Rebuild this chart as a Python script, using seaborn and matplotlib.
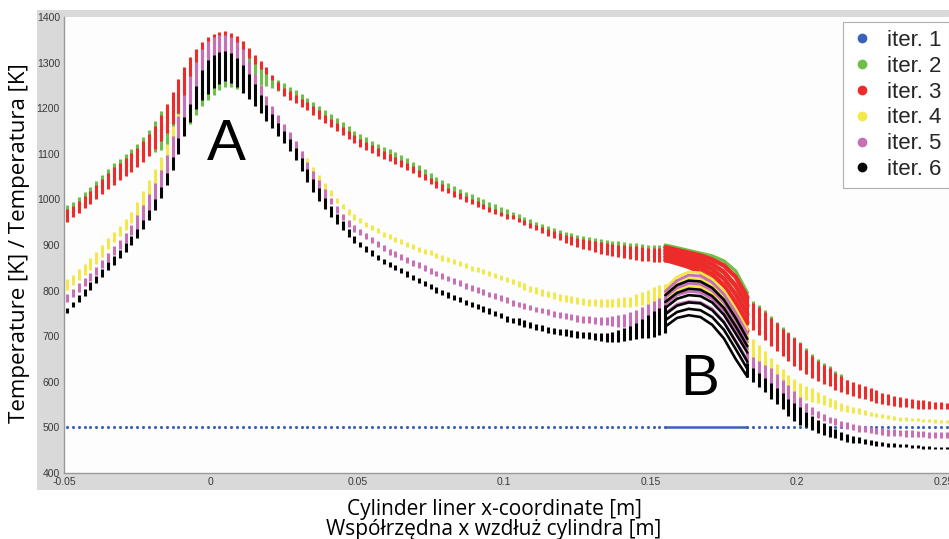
import numpy as np
import pandas as pd
import matplotlib
matplotlib.use("Agg")
import matplotlib.pyplot as plt
from matplotlib.lines import Line2D
import seaborn as sns

# ---------------- data ----------------
# bar positions along the liner [m] (left of ring zone B, then right of it)
x_bars = [
    -0.049, -0.047, -0.045, -0.043, -0.041, -0.039, -0.037, -0.035, -0.033, -0.031,
    -0.029, -0.027, -0.025, -0.023, -0.021, -0.019, -0.017, -0.015, -0.013, -0.011,
    -0.009, -0.007, -0.005, -0.003, -0.001, 0.001, 0.003, 0.005, 0.007, 0.009,
    0.011, 0.013, 0.015, 0.017, 0.019, 0.021, 0.023, 0.025, 0.027, 0.029,
    0.031, 0.033, 0.035, 0.037, 0.039, 0.041, 0.043, 0.045, 0.047, 0.049,
    0.051, 0.053, 0.055, 0.057, 0.059, 0.061, 0.063, 0.065, 0.067, 0.069,
    0.071, 0.073, 0.075, 0.077, 0.079, 0.081, 0.083, 0.085, 0.087, 0.089,
    0.091, 0.093, 0.095, 0.097, 0.099, 0.101, 0.103, 0.105, 0.107, 0.109,
    0.111, 0.113, 0.115, 0.117, 0.119, 0.121, 0.123, 0.125, 0.127, 0.129,
    0.131, 0.133, 0.135, 0.137, 0.139, 0.141, 0.143, 0.145, 0.147, 0.149,
    0.151, 0.153, 0.155,
    0.183, 0.185, 0.187, 0.189, 0.191, 0.193, 0.195, 0.197, 0.199, 0.201,
    0.203, 0.205, 0.207, 0.209, 0.211, 0.213, 0.215, 0.217, 0.219, 0.221,
    0.223, 0.225, 0.227, 0.229, 0.231, 0.233, 0.235, 0.237, 0.239, 0.241,
    0.243, 0.245, 0.247, 0.249, 0.251]

iter1_T = [500] * 138

iter2_top = [
    987, 994, 1005, 1016, 1027, 1040, 1054, 1067, 1079, 1089, 1099, 1111, 1122, 1136, 1152, 1171, 1194,
    1205, 1231, 1258, 1285, 1307, 1325, 1341, 1351, 1358, 1363, 1364, 1361, 1353, 1343, 1327, 1312, 1298, 1285, 1267,
    1262,
    1255, 1247, 1239, 1231, 1223, 1214, 1205, 1196, 1187, 1178, 1169, 1160, 1151,
    1143, 1136, 1129, 1122, 1116, 1110, 1104, 1097, 1090, 1083, 1075, 1066, 1058, 1050, 1043, 1036, 1029, 1023, 1017, 1011, 1006, 1000, 994, 989, 983, 978,
    972, 967, 961, 956, 951, 946, 941, 937, 933, 929, 926, 923, 920, 917, 915, 913, 911, 909, 908, 906, 905, 904, 902, 901, 900, 900, 899,
    787, 777, 768, 757, 745, 732, 720, 710, 699, 688, 674, 661, 650, 641, 634, 623, 617,
    603, 598, 593, 589, 584, 580, 574, 571, 567, 564, 562, 560, 558, 557, 555, 554, 554, 552]
iter2_bot = [
    956, 966, 976, 986, 995, 1006, 1017, 1027, 1036, 1047, 1056, 1066, 1077, 1088, 1100,
    1105, 1108,
    1115, 1130, 1145, 1160, 1165, 1185, 1205, 1218, 1230, 1240, 1246, 1246, 1242, 1238, 1236, 1240, 1250, 1248, 1244, 1238,
    1230, 1222, 1214, 1206, 1198, 1189, 1180, 1171, 1162, 1153, 1144, 1135, 1126,
    1118, 1111, 1105, 1098, 1092, 1087, 1081, 1074, 1068, 1061, 1053, 1045, 1037, 1029, 1022, 1016, 1009, 1003, 998, 992, 987, 982, 976, 971, 966, 961,
    959, 953, 947, 941, 935, 929, 923, 918, 913, 908, 904, 899, 895, 891, 887, 884, 881, 878, 876, 874, 872, 870, 869, 868, 866, 865, 865,
    728, 717, 705, 694, 682, 670, 659, 648, 637, 629, 621, 612, 605, 599, 593, 586, 581,
    576, 572, 567, 565, 561, 557, 554, 552, 550, 548, 547, 546, 544, 543, 543, 543, 543, 543]

iter3_top = [
    978, 985, 996, 1007, 1018, 1031, 1045, 1058, 1070, 1080, 1090, 1102, 1113, 1127, 1143, 1162, 1185,
    1210, 1236, 1263, 1290, 1312, 1330, 1346, 1356, 1363, 1368, 1369, 1366, 1358, 1348, 1332, 1317, 1303, 1290, 1272, 1258,
    1245, 1237, 1229, 1221, 1213, 1204, 1195, 1186, 1177, 1168, 1159, 1150, 1141,
    1133, 1126, 1119, 1112, 1106, 1100, 1094, 1087, 1080, 1073, 1065, 1056, 1048, 1040, 1033, 1026, 1019, 1013, 1007, 1001, 996, 990, 984, 979, 973, 968,
    965, 960, 954, 949, 944, 939, 934, 930, 926, 922, 919, 916, 913, 910, 908, 906, 904, 902, 901, 899, 898, 897, 895, 894, 893, 893, 892,
    783, 773, 764, 753, 741, 728, 716, 706, 695, 684, 670, 657, 646, 637, 630, 619, 613,
    605, 600, 595, 591, 586, 582, 576, 573, 569, 566, 564, 562, 560, 559, 557, 556, 556, 554]
iter3_bot = [
    951, 961, 971, 981, 990, 1001, 1012, 1022, 1031, 1042, 1051, 1061, 1072, 1083, 1095, 1110, 1128,
    1145, 1165, 1190, 1220, 1250, 1280, 1300, 1315, 1322, 1328, 1330, 1330, 1328, 1320, 1310, 1298, 1285, 1275, 1262, 1240,
    1227, 1219, 1211, 1203, 1195, 1186, 1177, 1168, 1159, 1150, 1141, 1132, 1123,
    1115, 1108, 1102, 1095, 1089, 1084, 1078, 1071, 1065, 1058, 1050, 1042, 1034, 1026, 1019, 1013, 1006, 1000, 995, 989, 984, 979, 973, 968, 963, 958,
    956, 950, 944, 938, 932, 926, 920, 915, 910, 905, 901, 896, 892, 888, 884, 881, 878, 875, 873, 871, 869, 867, 866, 865, 863, 862, 862,
    725, 714, 702, 691, 679, 667, 656, 645, 634, 626, 618, 609, 602, 596, 590, 583, 578,
    573, 569, 564, 562, 558, 554, 551, 549, 547, 545, 544, 543, 541, 540, 540, 540, 540, 540]

iter4_top = [
    825, 834, 847, 858, 871, 885, 900, 915, 929, 942, 956, 973,
    995, 1018, 1042, 1066, 1092, 1122, 1160, 1188,
    1224, 1264, 1296, 1324, 1342, 1350, 1354, 1355, 1350, 1339,
    1324, 1298, 1270, 1244, 1220, 1199,
    1180, 1160, 1142, 1122, 1106, 1090, 1072, 1054, 1036, 1020, 1004, 990, 978, 967,
    959, 951, 944, 937, 929, 924, 918, 913, 907, 902, 896, 892, 888, 882, 877, 873, 869, 864, 860, 855, 851, 847, 842, 838, 835, 830,
    826, 821, 816, 811, 807, 803, 800, 796, 793, 790, 788, 786, 784, 782, 782, 781, 781, 782, 783, 785, 787, 792, 797, 802, 807, 812, 815,
    706, 694, 681, 667, 652, 640, 627, 615, 607, 597, 591, 586, 578, 571, 565, 560, 554,
    549, 545, 542, 538, 534, 532, 529, 527, 525, 523, 522, 521, 520, 519, 518, 518, 517, 516]
iter4_bot = [
    801, 812, 823, 834, 845, 858, 874, 891, 907, 920, 933, 948,
    960, 983, 1007, 1032, 1060, 1093, 1135, 1177,
    1220, 1260, 1292, 1320, 1338, 1346, 1350, 1351, 1346, 1335,
    1320, 1294, 1266, 1240, 1216, 1195,
    1176, 1156, 1138, 1118, 1102, 1079, 1058, 1038, 1018,
    1008, 992, 978, 966, 955,
    948, 940, 933, 926, 918, 913, 907, 902, 896, 891, 885, 881, 877, 871, 866, 862, 858, 853, 849, 844, 840, 836, 831, 827, 824, 819,
    814, 808, 802, 796, 792, 788, 785, 781, 778, 775, 773, 771, 769, 767, 766, 765, 764, 764, 764, 764, 765, 766, 768, 770, 772, 775, 778,
    661, 651, 641, 632, 626, 614, 601,
    582, 575, 567, 560, 556, 553, 549, 544, 540, 537, 534, 532, 529, 527, 525, 523, 520, 518, 516, 515, 514, 513, 513, 512, 511, 510, 510, 509]

iter5_top = [
    793, 803, 817, 828, 839, 852, 867, 883, 898, 911, 926, 944,
    965, 988, 1012, 1037, 1065, 1098, 1140, 1182,
    1230, 1270, 1302, 1330, 1348, 1356, 1360, 1361, 1356, 1345,
    1330, 1304, 1276, 1250, 1226, 1205,
    1186, 1166, 1148, 1128, 1106, 1083, 1062, 1042, 1022, 1003, 985, 968, 954, 943,
    934, 926, 917, 908, 899, 892, 886, 880, 874, 868, 862, 856, 850, 844, 838, 833, 828, 823, 817, 812, 807, 803, 798, 794, 790, 785,
    779, 776, 772, 769, 765, 762, 759, 756, 753, 751, 749, 747, 745, 744, 743, 743, 743, 744, 746, 749, 753, 758, 764, 771, 778, 783, 786,
    665, 655, 645, 636, 630, 618, 605, 592, 580, 566, 554, 545, 537, 529, 523, 520, 515,
    511, 508, 505, 503, 501, 499, 498, 496, 496, 495, 494, 494, 493, 492, 491, 491, 491, 491]
iter5_bot = [
    776, 787, 798, 809, 820, 834, 850, 863, 878, 891, 905, 922,
    932, 951, 973, 997, 1024, 1054, 1088, 1131,
    1176, 1206, 1244, 1280, 1301, 1312, 1319, 1322, 1318, 1306,
    1290, 1270, 1248, 1226, 1204, 1184,
    1164, 1146, 1128, 1108, 1086, 1062, 1040, 1020, 1000,
    989, 971, 954, 940, 929,
    921, 913, 904, 895, 886, 879, 873, 867, 861, 855, 849, 843, 837, 831, 825, 820, 815, 810, 804, 799, 794, 790, 785, 781, 777, 772,
    766, 763, 760, 757, 754, 750, 747, 743, 740, 737, 735, 732, 730, 728, 726, 725, 724, 722, 721, 721, 721, 722, 724, 726, 728, 730, 732,
    637, 626, 615, 604, 593, 583, 571,
    556, 549, 542, 534, 527, 520, 515, 509, 506, 501, 497, 494, 491, 489, 487, 485, 484, 482, 482, 481, 480, 480, 479, 478, 477, 477, 477, 476]

iter6_top = [
    762, 776, 790, 803, 818, 832, 848, 862, 876, 889, 904, 920,
    936, 955, 977, 1001, 1028, 1058, 1092, 1135,
    1180, 1210, 1248, 1284, 1305, 1316, 1323, 1326, 1322, 1310,
    1294, 1274, 1252, 1230, 1208, 1188,
    1168, 1150, 1132, 1112, 1090, 1066, 1044, 1024, 1004, 986, 968, 952, 935, 920,
    907, 897, 888, 879, 870, 863, 857, 850, 842, 835, 828, 822, 815, 807, 802, 796, 791, 786, 780, 775, 771, 766, 761, 756, 751, 744,
    741, 739, 735, 731, 727, 724, 721, 718, 716, 715, 713, 711, 710, 709, 708, 708, 708, 710, 713, 717, 723, 730, 738, 747, 756, 762, 768,
    641, 630, 619, 608, 597, 587, 575, 563, 553, 545, 534, 525, 516, 509, 502, 496, 491,
    486, 481, 478, 475, 472, 470, 468, 466, 465, 464, 463, 461, 461, 460, 459, 458, 458, 457]
iter6_bot = [
    750, 763, 776, 788, 801, 816, 830, 845, 856, 871, 885, 900,
    916, 934, 954, 977, 1003, 1032, 1064, 1100,
    1140, 1170, 1198, 1218, 1232, 1245, 1254, 1260, 1256, 1246,
    1234, 1220, 1205, 1189, 1172, 1156,
    1140, 1124, 1106, 1086, 1062, 1038, 1016, 997, 979, 962, 947, 933, 918, 905,
    895, 885, 876, 867, 858, 851, 845, 838, 830, 823, 816, 810, 803, 795, 790, 784, 779, 774, 768, 763, 759, 754, 749, 744, 739, 732,
    728, 725, 721, 718, 714, 711, 708, 705, 702, 700, 698, 697, 695, 694, 692, 690, 688, 688, 688, 689, 691, 693, 695, 697, 699, 703, 708,
    611, 600, 589, 578, 562, 552, 540, 524, 513, 505, 500, 494, 488, 483, 480, 476, 472,
    469, 466, 465, 463, 461, 460, 459, 458, 457, 456, 456, 455, 454, 453, 453, 453, 452, 452]

# ring-pack zone B: traces of each iteration [K] at these x positions
arc_x = [0.155, 0.159, 0.163, 0.167, 0.171, 0.175, 0.179, 0.183]
iter1_arcs = [[500, 500, 500, 500, 500, 500, 500, 500]]
iter2_arcs = [
    [900, 894, 888, 882, 876, 865, 843, 795],
    [893, 887, 881, 875, 868, 856, 830, 782],
    [884, 878, 871, 864, 855, 838, 808, 762]]
iter3_arcs = [
    [895, 889, 883, 877, 868, 855, 830, 785],
    [888, 882, 875, 868, 858, 841, 811, 767],
    [881, 875, 867, 859, 847, 826, 792, 748],
    [874, 867, 860, 850, 836, 811, 774, 730],
    [867, 860, 852, 840, 825, 795, 755, 712]]
iter4_arcs = [
    [805, 830, 841, 839, 825, 800, 760, 714],
    [795, 818, 828, 826, 812, 786, 746, 700],
    [780, 800, 810, 808, 794, 768, 728, 682]]
iter5_arcs = [
    [798, 822, 834, 832, 818, 792, 752, 706],
    [785, 806, 816, 814, 800, 774, 734, 688],
    [770, 790, 798, 796, 782, 756, 716, 672],
    [750, 770, 776, 774, 760, 732, 690, 648]]
iter6_arcs = [
    [790, 812, 822, 820, 806, 780, 740, 694],
    [775, 795, 804, 802, 788, 762, 722, 678],
    [762, 782, 790, 788, 774, 747, 706, 664],
    [748, 767, 774, 772, 757, 730, 688, 644],
    [735, 753, 760, 757, 742, 714, 672, 628],
    [721, 740, 746, 742, 725, 695, 650, 611]]

labels = ["iter. 1", "iter. 2", "iter. 3", "iter. 4", "iter. 5", "iter. 6"]
colors = ["#3a62b8", "#6cbf47", "#ee2b2b", "#f3e84a", "#c870b6", "#050505"]
arc_widths = [1.8, 2.4, 3.2, 2.0, 2.0, 1.9]

x_ticks = [-0.05, 0, 0.05, 0.1, 0.15, 0.2, 0.25]
x_ticklabels = ["-0.05", "0", "0.05", "0.1", "0.15", "0.2", "0.25"]
y_ticks = [400, 500, 600, 700, 800, 900, 1000, 1100, 1200, 1300, 1400]

# ---------------- figure ----------------
sns.set_style("white")
plt.rcParams["font.family"] = ["Liberation Sans", "DejaVu Sans"]

W, H = 949, 539
fig = plt.figure(figsize=(W / 100, H / 100), dpi=100)
fig.patch.set_facecolor("white")

# grey MATLAB-like panel behind the axes (a blank background axes)
bg = fig.add_axes([37 / W, 1 - 490 / H, (W - 37) / W, (490 - 10) / H], zorder=0)
bg.set_facecolor("#d9d9d9")
bg.set_xticks([])
bg.set_yticks([])
for s in bg.spines.values():
    s.set_visible(False)

ax = fig.add_axes([64 / W, 1 - 473 / H, (W - 64) / W, (473 - 17) / H], zorder=1)
ax.set_facecolor("#fdfdfd")


def bar_frame(top, bot):
    rows = []
    for i, (x, t, b) in enumerate(zip(x_bars, top, bot)):
        rows.append((i, x, b))
        rows.append((i, x, t))
    return pd.DataFrame(rows, columns=["unit", "x", "T"])


def arc_frame(arcs):
    rows = []
    for i, arc in enumerate(arcs):
        for x, t in zip(arc_x, arc):
            rows.append((i, x, t))
    return pd.DataFrame(rows, columns=["unit", "x", "T"])


# iteration 1: constant 500 K
sns.scatterplot(x=x_bars, y=iter1_T, color=colors[0], s=5, linewidth=0, ax=ax,
                legend=False, zorder=2)
sns.lineplot(data=arc_frame(iter1_arcs), x="x", y="T", units="unit", estimator=None,
             sort=False, color=colors[0], linewidth=arc_widths[0], ax=ax, legend=False)

series = [(iter2_top, iter2_bot, iter2_arcs), (iter3_top, iter3_bot, iter3_arcs),
          (iter4_top, iter4_bot, iter4_arcs), (iter5_top, iter5_bot, iter5_arcs),
          (iter6_top, iter6_bot, iter6_arcs)]
for (top, bot, arcs), c, aw in zip(series, colors[1:], arc_widths[1:]):
    sns.lineplot(data=bar_frame(top, bot), x="x", y="T", units="unit", estimator=None,
                 sort=False, color=c, linewidth=2.2, solid_capstyle="butt", ax=ax,
                 legend=False)
    sns.lineplot(data=arc_frame(arcs), x="x", y="T", units="unit", estimator=None,
                 sort=False, color=c, linewidth=aw, ax=ax, legend=False)

ax.set_xlim(-0.05, -0.05 + (W - 64) / 2933)
ax.set_ylim(400, 1400)
ax.set_xticks(x_ticks)
ax.set_xticklabels(x_ticklabels)
ax.set_yticks(y_ticks)
ax.set_xlabel("")
ax.set_ylabel("")
ax.tick_params(axis="both", direction="in", length=7, width=0.8, color="#9a9a9a",
               labelsize=7.5, labelcolor="#3a3a3a", pad=3)
for side in ["top", "right"]:
    ax.spines[side].set_visible(False)
for side in ["left", "bottom"]:
    ax.spines[side].set_color("#9a9a9a")
    ax.spines[side].set_linewidth(1.0)

ax.text(0.0052, 1119, "A", fontsize=42, ha="center", va="center", color="black",
        family="Liberation Sans", zorder=6)
ax.text(0.1668, 604, "B", fontsize=42, ha="center", va="center", color="black",
        family="Liberation Sans", zorder=6)

handles = [Line2D([0], [0], marker="o", linestyle="None", markerfacecolor=c,
                  markeredgecolor=c, markersize=6) for c in colors]
leg = ax.legend(handles, labels, loc="upper right", bbox_to_anchor=(1.0, (473 - 22) / 456),
                borderaxespad=0, fontsize=16, frameon=True, fancybox=False,
                handlelength=1.0, handletextpad=0.6, labelspacing=0.22,
                borderpad=0.35)
leg.get_frame().set_edgecolor("#b0b0b0")
leg.get_frame().set_linewidth(0.8)
leg.get_frame().set_facecolor("white")
leg.get_frame().set_alpha(1)

fig.text(494 / W, 1 - 510 / H, "Cylinder liner x-coordinate [m]", ha="center", va="center",
         fontsize=15, family="Open Sans", color="black")
fig.text(494 / W, 1 - 530 / H, "Współrzędna x wzdłuż cylindra [m]", ha="center", va="center",
         fontsize=15, family="Open Sans", color="black")
fig.text(20 / W, 1 - 243 / H, "Temperature [K] / Temperatura [K]", ha="center", va="center",
         rotation=90, fontsize=16, family="Open Sans", color="black")

fig.savefig("out.png", dpi=100, facecolor="white")
